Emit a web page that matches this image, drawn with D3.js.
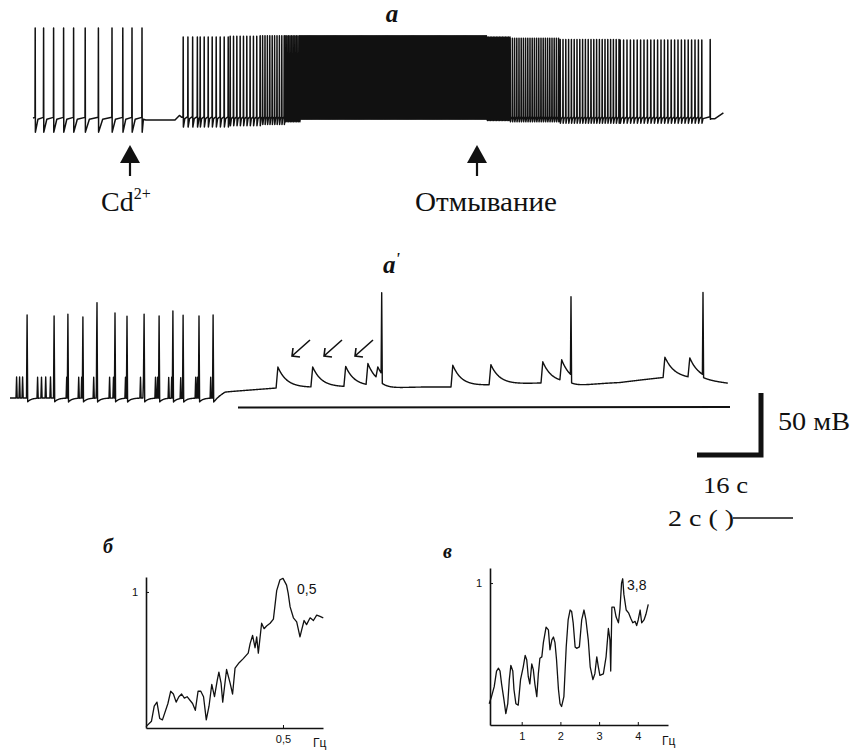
<!DOCTYPE html>
<html>
<head>
<meta charset="utf-8">
<title>Cd2+ traces</title>
<script src="https://d3js.org/d3.v7.min.js"></script>
<style>
	body{ margin:0; background:#fff; }
	svg{ display:block; }
	.trace{ fill:none; stroke:#111; stroke-linejoin:round; }
	.lbl{ font-family:'Liberation Serif','Times New Roman',Times,'DejaVu Serif',serif; fill:#111; }
	.panel{ font-family:'Liberation Serif','Times New Roman',Times,serif; font-weight:bold; font-style:italic; fill:#111; }
	.axis path, .axis line{ stroke:#111; }
	.axis path{ stroke-width:1.6; }
	.axis text{ font-family:'Liberation Sans',Arial,sans-serif; font-size:11px; fill:#111; }
	.small{ font-family:'Liberation Sans',Arial,sans-serif; fill:#111; }
</style>
</head>
<body>
<svg id="fig" width="853" height="753"></svg>
<script>
// ---------- data ----------
// trace a : time in s, potential in mV
var spikesA1 = [0.5, 2.6, 5.1, 7.6, 10.1, 13.0, 16.3, 19.7, 22.4, 24.7, 27.2];
var gapA = [[28.2, -61.5], [35.5, -61.5], [36.6, -58], [37.2, -59.5]];
// [from, to, interval, peak, trough]
var trainA = [
	[37.5, 41.75, 1.18, 3, -67],
	[41.75, 49.25, 1.0, 3, -67],
	[49.25, 56.75, 0.83, 3.5, -66],
	[56.75, 63, 0.6, 4, -65],
	[63, 66.75, 0.4, 4, -63],
	[66.75, 113.5, 0.26, 4, -61],
	[113.5, 119.25, 0.38, 3, -62],
	[119.25, 131.75, 0.55, 2, -63],
	[131.75, 146.75, 0.7, 1, -64],
	[146.75, 167.5, 0.85, 0.7, -64]
];
var lastSpikeA = [169.25, 1, -61];
var tailA = [[170.5, -60.5], [172.6, -56]];

// trace a' : baseline knots [s, mV]
var baseA2 = [[0, -60], [6.83, -60], [7.17, -55.3], [8.9, -52.2], [11.17, -51.4], [12.33, -50.7],
	[14.77, -51.4], [16.03, -49.9], [17.77, -48.3], [18.7, -48.3], [20.33, -47.6], [21.9, -43.7],
	[23.0, -45.2], [23.93, -48.3]];
// big spikes [t, amplitude, ahp depth, ahp tau]
var apA2 = [[0.55, 64.6, 3, 0.12], [1.45, 63.8, 3, 0.12], [1.91, 65.3, 3, 0.12], [2.41, 63.0, 3, 0.12],
	[2.88, 66.1, 3, 0.12], [3.48, 66.1, 3, 0.12], [3.88, 63.8, 3, 0.12], [4.45, 65.3, 3, 0.12],
	[4.95, 63.8, 3, 0.12], [5.41, 67.7, 3, 0.12], [5.75, 64.6, 3, 0.12], [6.28, 63.8, 3, 0.12],
	[6.75, 64.6, 3, 0.12], [12.37, 63, 7, 0.5], [18.68, 60.7, 6, 0.6], [23.08, 64, 2, 0.5]];
var smallA2 = [0.20, 0.30, 0.40, 0.90, 1.03, 1.17, 1.33, 1.87, 2.27, 2.37, 2.77, 2.87, 3.30, 3.43,
	3.83, 4.33, 4.43, 4.83, 4.90, 5.27, 5.37, 5.67, 6.17, 6.23, 6.67];
var smallAmpA2 = 16.3;
// slow humps [onset, amplitude]
var humpA2 = [[8.87, 16.3], [10.03, 15.6], [11.13, 15.6], [11.87, 16.4], [12.2, 9], [14.70, 17],
	[15.97, 15.6], [17.70, 16.4], [18.33, 16], [21.77, 15.6], [22.60, 15]];

// spectra [Hz, relative power]
var specB = [[0.00,0.01],[0.02,0.05],[0.03,0.16],[0.04,0.19],[0.05,0.07],[0.06,0.06],[0.08,0.18],[0.09,0.27],
	[0.10,0.25],[0.11,0.19],[0.12,0.23],[0.13,0.25],[0.14,0.22],[0.15,0.23],[0.17,0.18],[0.18,0.13],[0.19,0.27],
	[0.20,0.27],[0.21,0.23],[0.22,0.06],[0.23,0.16],[0.24,0.32],[0.25,0.23],[0.26,0.35],[0.266,0.41],[0.274,0.33],
	[0.28,0.19],[0.294,0.43],[0.307,0.33],[0.316,0.25],[0.325,0.44],[0.34,0.48],[0.355,0.51],[0.373,0.55],
	[0.38,0.62],[0.389,0.68],[0.398,0.59],[0.404,0.67],[0.41,0.55],[0.422,0.77],[0.431,0.73],[0.44,0.75],
	[0.453,0.77],[0.465,0.80],[0.477,1.01],[0.489,1.09],[0.50,1.10],[0.513,1.05],[0.519,0.99],[0.526,0.89],
	[0.538,0.81],[0.55,0.78],[0.562,0.67],[0.568,0.72],[0.577,0.79],[0.586,0.76],[0.599,0.81],[0.611,0.79],
	[0.623,0.83],[0.635,0.82],[0.647,0.81]];
var specV = [[0.16,0.15],[0.22,0.20],[0.29,0.27],[0.35,0.38],[0.40,0.40],[0.44,0.38],[0.48,0.29],[0.54,0.18],
	[0.59,0.08],[0.64,0.15],[0.68,0.32],[0.72,0.42],[0.77,0.38],[0.80,0.25],[0.85,0.15],[0.91,0.14],[0.97,0.32],
	[1.04,0.41],[1.09,0.49],[1.13,0.46],[1.17,0.34],[1.21,0.29],[1.26,0.43],[1.30,0.39],[1.34,0.29],[1.39,0.20],
	[1.43,0.36],[1.47,0.47],[1.52,0.48],[1.56,0.58],[1.63,0.69],[1.69,0.67],[1.73,0.53],[1.78,0.60],[1.82,0.62],
	[1.86,0.58],[1.90,0.46],[1.95,0.25],[1.99,0.15],[2.03,0.13],[2.09,0.20],[2.15,0.55],[2.20,0.74],[2.25,0.81],
	[2.29,0.80],[2.33,0.72],[2.38,0.55],[2.42,0.54],[2.49,0.55],[2.55,0.74],[2.61,0.81],[2.66,0.74],[2.72,0.60],
	[2.77,0.41],[2.84,0.32],[2.89,0.36],[2.94,0.48],[2.98,0.41],[3.02,0.35],[3.11,0.36],[3.18,0.48],[3.24,0.68],
	[3.28,0.60],[3.30,0.38],[3.33,0.83],[3.39,0.83],[3.44,0.76],[3.50,0.72],[3.54,0.82],[3.58,1.00],[3.61,1.03],
	[3.64,0.92],[3.70,0.81],[3.76,0.79],[3.82,0.75],[3.87,0.72],[3.93,0.73],[3.97,0.70],[4.01,0.74],[4.06,0.81],
	[4.10,0.72],[4.16,0.74],[4.21,0.78],[4.27,0.85]];
var ticksB = [0.5];
var ticksV = [1, 2, 3, 4];

// ---------- drawing ----------
var svg = d3.select("#fig");

// trace a
var xA = d3.scaleLinear().domain([0, 173]).range([33, 725]);
var yA = d3.scaleLinear().domain([-60, 10]).range([118, 28]);

function addSpike(pts, t, gap, peak, trough, thr) {
	pts.push([t, thr], [t + 0.05, peak], [t + 0.1, trough], [t + 0.1 + 0.3 * gap, thr - 1.5]);
}
var ptsA = [[0, -60]];
spikesA1.forEach(function(t, i) {
	var next = i < spikesA1.length - 1 ? spikesA1[i + 1] : gapA[0][0];
	addSpike(ptsA, t, next - t, 10, -71, -59.5);
});
gapA.forEach(function(p) { ptsA.push(p); });
trainA.forEach(function(s) {
	for (var t = s[0]; t < s[1] - 1e-6; t += s[2]) addSpike(ptsA, t, s[2], s[3], s[4], -59);
});
addSpike(ptsA, lastSpikeA[0], 1, lastSpikeA[1], lastSpikeA[2], -59);
tailA.forEach(function(p) { ptsA.push(p); });

var lineA = d3.line().x(function(d) { return xA(d[0]); }).y(function(d) { return yA(d[1]); });
svg.append("path").datum(ptsA).attr("class", "trace").attr("stroke-width", 1.5).attr("d", lineA);

// trace a'
var xA2 = d3.scaleLinear().domain([0, 24]).range([10, 730]);
var yA2 = d3.scaleLinear().domain([-60, 10]).range([398, 308]);
var baseFn = d3.scaleLinear().domain(baseA2.map(function(d) { return d[0]; }))
	.range(baseA2.map(function(d) { return d[1]; })).clamp(true);
var W = 0.04, RISE = 0.06, TAU = 0.3;

function tri(dt, w, a) {
	if (dt < 0 || dt > w) return 0;
	return a * (1 - Math.abs(dt - w / 2) / (w / 2));
}
function vA2(t) {
	var v = baseFn(t);
	apA2.forEach(function(e) {
		var dt = t - e[0];
		v += tri(dt, W, e[1]);
		if (dt > W) v -= e[2] * Math.exp(-(dt - W) / e[3]);
		else if (dt > W / 2) v -= e[2] * (dt - W / 2) / (W / 2);
	});
	smallA2.forEach(function(te) { v += tri(t - te, W, smallAmpA2); });
	humpA2.forEach(function(e) {
		var dt = t - e[0];
		if (dt >= 0 && dt < RISE) v += e[1] * dt / RISE;
		else if (dt >= RISE) v += e[1] * Math.exp(-(dt - RISE) / TAU);
	});
	return v;
}
var tEnd = baseA2[baseA2.length - 1][0];
var tA2 = d3.range(0, tEnd, 0.01);
apA2.forEach(function(e) { tA2.push(e[0], e[0] + W / 2, e[0] + W); });
smallA2.forEach(function(te) { tA2.push(te, te + W / 2, te + W); });
humpA2.forEach(function(e) { tA2.push(e[0], e[0] + RISE); });
tA2.push(tEnd);
tA2 = Array.from(new Set(tA2.map(function(t) { return +t.toFixed(4); }))).sort(d3.ascending);
var ptsA2 = tA2.map(function(t) { return [t, vA2(t)]; });

var lineA2 = d3.line().x(function(d) { return xA2(d[0]); }).y(function(d) { return yA2(d[1]); });
svg.append("path").datum(ptsA2).attr("class", "trace").attr("stroke-width", 1.4).attr("d", lineA2);

// application marker under a'
svg.append("line").attr("x1", 238).attr("x2", 730).attr("y1", 407.5).attr("y2", 407)
	.attr("stroke", "#111").attr("stroke-width", 2);

// small arrows on a'
[[310, 340], [342, 340], [373, 340]].forEach(function(p) {
	var x0 = p[0], y0 = p[1], x1 = p[0] - 18, y1 = p[1] + 16;
	svg.append("path")
		.attr("d", "M" + x0 + "," + y0 + "L" + x1 + "," + y1 + "M" + (x1 + 1) + "," + (y1 - 8) + "L" + x1 + "," + y1 + "L" + (x1 + 8) + "," + (y1 + 1))
		.attr("fill", "none").attr("stroke", "#111").attr("stroke-width", 1.6);
});

// big arrows on a
[130, 477].forEach(function(x) {
	svg.append("path").attr("d", "M" + x + ",145L" + (x + 10) + ",163L" + (x - 10) + ",163Z").attr("fill", "#111");
	svg.append("line").attr("x1", x).attr("x2", x).attr("y1", 162).attr("y2", 176)
		.attr("stroke", "#111").attr("stroke-width", 2.2);
});

// labels
svg.append("text").attr("class", "panel").attr("x", 392).attr("y", 22).attr("font-size", 25)
	.attr("text-anchor", "middle").text("a");
var ap = svg.append("text").attr("class", "panel").attr("x", 383).attr("y", 273).attr("font-size", 25);
ap.append("tspan").text("a");
ap.append("tspan").attr("font-size", 16).attr("dy", -9).text("'");

var cd = svg.append("text").attr("class", "lbl").attr("x", 101).attr("y", 211).attr("font-size", 28);
cd.append("tspan").text("Cd");
cd.append("tspan").attr("font-size", 16).attr("dy", -12).text("2+");
svg.append("text").attr("class", "lbl").attr("x", 415).attr("y", 211).attr("font-size", 28)
	.attr("textLength", 142).attr("lengthAdjust", "spacingAndGlyphs").text("Отмывание");

// scale bars
svg.append("path").attr("d", "M761,393V455H697").attr("fill", "none").attr("stroke", "#111").attr("stroke-width", 5);
svg.append("text").attr("class", "lbl").attr("x", 778).attr("y", 430).attr("font-size", 25)
	.attr("textLength", 72).attr("lengthAdjust", "spacingAndGlyphs").text("50 мВ");
svg.append("text").attr("class", "lbl").attr("x", 703).attr("y", 493).attr("font-size", 24)
	.attr("textLength", 45).attr("lengthAdjust", "spacingAndGlyphs").text("16 с");
svg.append("text").attr("class", "lbl").attr("x", 668).attr("y", 526).attr("font-size", 23)
	.attr("textLength", 66).attr("lengthAdjust", "spacingAndGlyphs").text("2 с ( )");
svg.append("line").attr("x1", 733).attr("x2", 793).attr("y1", 518).attr("y2", 518)
	.attr("stroke", "#111").attr("stroke-width", 1.3);

// spectrum б
var xB = d3.scaleLinear().domain([0, 0.646]).range([146, 323]);
var yB = d3.scaleLinear().domain([0, 1.11]).range([728, 577]);
svg.append("g").attr("class", "axis").attr("transform", "translate(0,728)")
	.call(d3.axisBottom(xB).tickValues(ticksB).tickFormat(function(d) { return String(d).replace(".", ","); })
		.tickSizeInner(-3).tickSizeOuter(0).tickPadding(7));
svg.append("g").attr("class", "axis").attr("transform", "translate(146,0)")
	.call(d3.axisLeft(yB).tickValues([1]).tickFormat(d3.format("d")).tickSizeInner(-3).tickSizeOuter(0).tickPadding(8));
var lineB = d3.line().x(function(d) { return xB(d[0]); }).y(function(d) { return yB(d[1]); });
svg.append("path").datum(specB).attr("class", "trace").attr("stroke-width", 1.3).attr("d", lineB);
svg.append("text").attr("class", "small").attr("x", 297).attr("y", 594).attr("font-size", 14).text("0,5");
svg.append("text").attr("class", "small").attr("x", 313).attr("y", 747).attr("font-size", 12).text("Гц");
svg.append("text").attr("class", "panel").attr("x", 103).attr("y", 553).attr("font-size", 20).text("б");

// spectrum в
var xV = d3.scaleLinear().domain([0.181, 4.78]).range([490, 668]);
var yV = d3.scaleLinear().domain([0, 1.106]).range([725, 568]);
svg.append("g").attr("class", "axis").attr("transform", "translate(0,725)")
	.call(d3.axisBottom(xV).tickValues(ticksV).tickFormat(d3.format("d"))
		.tickSizeInner(-3).tickSizeOuter(0).tickPadding(7));
svg.append("g").attr("class", "axis").attr("transform", "translate(490,0)")
	.call(d3.axisLeft(yV).tickValues([1]).tickFormat(d3.format("d")).tickSizeInner(-3).tickSizeOuter(0).tickPadding(8));
var lineV = d3.line().x(function(d) { return xV(d[0]); }).y(function(d) { return yV(d[1]); });
svg.append("path").datum(specV).attr("class", "trace").attr("stroke-width", 1.3).attr("d", lineV);
svg.append("text").attr("class", "small").attr("x", 627).attr("y", 590).attr("font-size", 14).text("3,8");
svg.append("text").attr("class", "small").attr("x", 662).attr("y", 745).attr("font-size", 12).text("Гц");
svg.append("text").attr("class", "panel").attr("x", 443).attr("y", 558).attr("font-size", 20).text("в");
</script>
</body>
</html>
